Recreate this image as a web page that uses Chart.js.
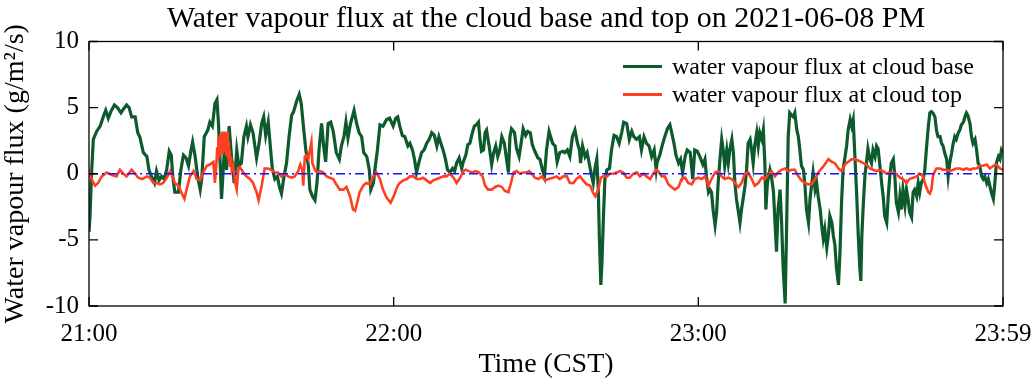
<!DOCTYPE html>
<html><head><meta charset="utf-8">
<script src="https://cdn.jsdelivr.net/npm/chart.js@4/dist/chart.umd.min.js"></script>
<style>html,body{margin:0;padding:0;background:#fff;}#wrap{width:1032px;height:384px;}</style>
</head><body><div id="wrap"><canvas id="c" width="1032" height="384"></canvas></div>
<script>
const chartTitle = 'Water vapour flux at the cloud base and top on 2021-06-08 PM';
const xAxisTitle = 'Time (CST)';
const yAxisTitle = 'Water vapour flux (g/m\u00B2/s)';
const seriesNames = ['water vapour flux at cloud base', 'water vapour flux at cloud top'];
// minutes after 21:00
const xTickMinutes = [0, 60, 120, 180];
const xTickLabels = ['21:00', '22:00', '23:00', '23:59'];
const yTickValues = [-10, -5, 0, 5, 10];

const baseTime = [0,0.2,0.5,0.85,1.5,2.2,2.8,3.3,3.8,4.3,5.0,5.6,6.3,6.8,7.4,7.9,8.4,9.1,9.6,10.0,10.7,11.4,11.8,12.3,12.9,13.3,13.8,14.3,14.8,15.3,15.8,16.2,16.5,16.9,17.6,18.1,18.6,19.1,19.6,20.1,20.4,20.9,21.4,21.9,22.2,22.7,23.4,23.8,24.3,24.8,25.2,25.5,25.8,26.1,26.7,27.1,27.6,28.1,28.6,29.1,29.5,
30.0,30.5,31.0,31.3,31.8,32.3,33.0,33.5,34.0,34.4,34.8,35.3,35.7,36.1,36.6,37.1,37.5,37.9,38.4,38.9,39.4,39.9,40.3,40.9,41.4,41.8,42.3,42.7,43.2,43.5,44.0,44.5,44.9,45.3,45.8,46.2,46.6,47.1,47.6,48.1,48.7,49.3,49.7,50.2,50.6,51.0,51.5,52.2,52.7,53.2,53.7,54.1,54.7,55.2,55.5,56.0,56.3,56.8,57.3,57.9,58.6,59.2,59.9,
60.4,60.8,61.2,61.7,62.2,62.8,63.2,63.7,64.1,64.5,65.0,65.5,66.0,66.5,67.0,67.5,68.0,68.5,68.9,69.3,69.8,70.2,70.6,71.1,71.6,72.0,72.4,72.9,73.4,73.7,74.2,74.6,75.0,75.5,75.9,76.3,76.7,77.0,77.3,77.7,78.0,78.3,78.8,79.3,79.7,80.1,80.5,80.9,81.3,81.8,82.3,82.6,82.9,83.2,83.8,84.2,84.7,85.1,85.5,86.0,86.4,86.9,87.3,87.8,88.4,88.8,89.3,89.7,90.1,90.6,
91.3,91.8,92.2,92.7,93.3,93.7,94.2,94.7,95.2,95.7,96.2,96.6,96.8,97.2,97.7,98.1,98.5,99.0,99.3,99.6,100.0,100.3,100.5,100.8,101.0,101.3,101.6,102.0,102.5,102.9,103.4,103.9,104.4,104.9,105.3,105.9,106.4,106.9,107.3,107.8,108.4,108.8,109.3,109.8,110.3,110.8,111.3,111.7,111.9,112.4,113.0,113.4,113.9,114.4,114.7,115.2,115.6,116.1,116.5,116.9,117.4,117.8,118.4,118.9,119.3,119.8,120.3,120.9,121.3,
121.6,122.0,122.3,122.6,122.9,123.3,123.6,123.9,124.3,124.6,124.9,125.2,125.6,125.9,126.2,126.6,126.9,127.2,127.5,127.9,128.2,128.5,128.9,129.2,129.5,129.8,130.2,130.5,130.8,131.1,131.5,131.8,132.1,132.5,132.8,133.1,133.3,133.6,134.1,134.4,134.8,135.1,135.4,135.7,136.1,136.4,136.7,137.1,137.4,137.7,138.0,138.4,138.7,139.0,139.4,139.7,140.0,140.3,140.7,141.0,141.3,141.7,142.0,142.3,142.6,143.0,143.3,143.6,144.0,144.3,144.6,144.9,145.3,145.6,145.9,146.3,146.6,146.9,147.2,147.6,147.9,148.2,148.5,148.9,149.2,149.5,149.9,150.2,150.5,150.8,151.2,151.5,151.8,
152.0,152.2,152.5,152.8,153.1,153.4,153.8,154.1,154.4,154.8,155.1,155.4,155.7,156.1,156.4,156.7,157.1,157.4,157.7,158.0,158.4,158.7,159.0,159.4,159.7,160.0,160.3,160.7,161.0,161.3,161.6,162.0,162.3,162.6,163.0,163.3,163.6,163.9,164.3,164.6,164.9,165.3,165.6,165.9,166.2,166.6,166.9,167.2,167.6,167.9,168.2,168.5,168.9,169.2,169.5,169.9,170.2,170.5,170.8,171.2,171.5,171.8,172.2,172.5,172.8,173.1,173.5,173.8,174.1,174.5,174.8,175.1,175.4,175.8,176.1,176.4,176.8,177.1,177.4,177.7,178.1,178.4,178.7,179.1,179.4,179.7,180.0];
const baseFlux = [-4.4,-3.2,0,2.6,3.2,3.6,4.3,4.8,4.2,4.7,5.2,5.0,4.6,4.9,5.2,5.0,4.3,4.3,3.1,2.8,1.6,1.3,0.3,-0.2,-0.7,0.2,-0.5,-0.2,-0.4,0.3,1.7,1.4,-0.2,-1.4,-1.4,0.3,1.4,1.2,0.6,1.8,2.4,1.3,-0.2,-1.2,-0.4,2.8,3.3,3.9,3.6,5.3,5.6,3.8,1.1,-1.9,2.1,0.3,3.6,1.1,-0.7,1.8,0.6,
0.8,2.8,3.6,2.8,3.7,3.1,1.2,2.3,3.8,4.3,2.9,3.9,2.1,0.4,-0.4,-0.2,-1.0,-1.5,-0.2,0.8,2.8,4.4,4.7,5.5,6.0,5.3,3.3,1.8,0.6,-1.2,-1.7,-2.0,-0.7,1.8,3.8,2.1,0.9,3.8,3.9,3.2,1.6,1.1,2.1,2.8,3.9,2.7,3.8,4.8,3.8,3.1,2.8,1.6,1.3,0.3,-1.2,-0.7,0.3,1.8,3.7,3.6,4.1,4.2,3.6,
4.2,4.3,3.6,2.9,2.8,2.1,2.3,1.8,1.1,0.1,0.9,1.6,1.8,2.3,2.6,3.1,2.9,2.1,2.8,2.3,1.7,1.1,0.3,0.1,0.4,0.2,0.8,1.2,0.4,0.9,1.4,2.2,2.3,3.1,3.6,3.7,3.9,2.6,1.7,1.8,3.1,3.3,2.1,0.7,1.6,2.1,1.3,1.8,2.8,2.3,0.9,0.1,2.8,3.4,3.1,1.9,1.3,2.3,3.4,2.9,3.2,3.1,2.2,1.7,1.2,1.1,0.3,-0.2,1.8,3.2,
2.3,2.1,0.9,1.6,1.7,1.6,1.8,1.3,2.8,3.3,2.3,1.8,0.8,2.1,1.3,1.6,0.8,-0.2,-0.7,0.3,1.1,-1.2,-4.7,-8.4,-6.9,-3.4,-0.4,0.3,0.4,1.8,2.9,2.8,2.3,3.1,3.9,3.8,2.6,3.2,2.8,2.6,2.8,1.8,2.8,2.3,2.1,1.3,1.8,0.3,0.9,1.4,2.3,2.8,3.4,3.7,3.2,2.3,1.4,0.8,1.1,0.1,1.3,1.8,1.6,-0.4,1.8,1.7,1.3,0.7,1.1,
-0.2,-1.4,-1.2,-1.4,-2.7,-3.9,-2.9,-0.7,1.3,2.6,1.8,0.6,1.8,0.8,1.8,2.6,1.6,-0.7,-1.9,-2.9,-3.7,-2.7,-1.7,-0.9,0.3,2.3,2.6,1.8,0.8,2.1,3.1,2.1,3.1,2.6,3.3,0.8,-2.7,-0.7,0.3,-0.2,-1.4,-3.7,-5.9,-2.7,-1.2,-3.7,-7.1,-9.8,-3.7,2.8,4.6,4.4,4.3,4.6,3.3,2.8,1.8,0.6,0.3,-0.9,-2.7,-3.7,-1.9,-0.9,0.1,-1.2,-0.7,-1.7,-2.7,-3.9,-4.9,-4.2,-5.6,-4.7,-3.2,-3.7,-4.7,-5.4,-7.1,-8.4,-5.9,-2.2,0.3,1.3,2.1,3.3,4.1,3.6,4.1,1.6,-1.7,-4.7,-7.1,
-8.1,-4.7,-2.2,-0.2,0.8,1.9,1.1,0.8,1.8,1.3,2.1,1.9,0.8,-0.7,-1.7,-3.2,-3.7,-1.7,-0.2,0.8,1.1,-0.2,-2.2,-2.9,-1.7,-2.7,-1.2,-2.4,-1.2,-1.9,-2.9,-3.3,-1.4,-1.2,-1.7,-0.7,-1.4,-0.7,-0.4,0.3,1.8,3.6,4.6,4.7,4.6,4.3,3.3,2.8,2.8,2.3,2.1,1.6,1.1,-0.2,0.8,1.6,2.3,2.8,2.6,3.1,3.3,3.7,3.9,4.3,4.6,4.4,3.8,2.8,2.3,2.6,1.8,0.8,0.6,-0.2,-0.4,-0.2,-0.7,-0.4,-0.9,-1.4,-1.9,-0.7,0.8,1.3,1.1,1.8,1.6];

const topTime = [0,0.5,1.2,1.8,2.5,3.5,4.5,5.4,6.1,6.8,7.4,8.4,9.1,9.7,10.5,11.4,12.0,12.7,13.3,14.0,14.6,15.3,16.0,16.4,16.9,17.6,18.3,18.8,19.2,19.9,20.6,21.2,21.9,22.5,23.2,23.8,24.5,24.8,25.1,
25.25,25.4,25.5,25.6,25.7,25.8,25.9,26.0,26.1,26.2,26.3,26.4,26.5,26.6,26.7,26.8,26.9,27.0,27.1,27.2,27.3,27.4,27.5,27.6,27.7,27.8,27.95,28.1,
28.4,28.8,29.1,29.4,29.7,30.4,31.0,31.7,32.3,33.0,33.4,34.0,34.6,35.3,35.9,36.6,37.2,37.9,38.6,39.2,39.9,40.5,41.2,41.6,42.0,42.2,42.5,42.8,43.2,43.5,43.8,44.0,44.5,44.9,45.5,46.1,46.8,47.4,48.1,48.7,49.4,50.1,50.7,51.4,52.0,52.4,52.8,53.3,54.0,54.6,55.3,56.0,56.6,57.3,57.9,58.6,59.4,60.0,
60.8,61.2,61.9,62.6,63.2,63.9,64.5,65.2,65.8,66.5,67.2,67.8,68.5,69.1,69.8,70.4,71.1,71.8,72.4,73.1,73.7,74.2,74.8,75.5,76.1,76.8,77.5,78.0,78.6,79.3,80.0,80.6,81.3,81.9,82.6,83.1,83.6,84.2,84.9,85.5,86.2,86.7,87.2,87.8,88.5,89.2,89.8,90.5,
91.4,92.1,92.7,93.4,94.1,94.7,95.4,96.0,96.7,97.3,98.0,98.7,99.2,99.7,100.3,100.8,101.3,102.0,102.6,103.3,103.9,104.6,105.2,105.9,106.5,107.2,107.9,108.5,109.2,109.8,110.5,111.1,111.7,112.1,112.8,113.4,114.1,114.7,115.4,116.1,116.7,117.4,118.0,118.7,119.3,120.0,120.7,121.3,
122.0,122.6,123.3,123.9,124.6,125.2,125.9,126.6,127.2,127.9,128.5,129.2,129.8,130.5,131.1,131.8,132.5,133.1,133.8,134.4,135.1,135.7,136.4,137.1,137.7,138.4,139.0,139.7,140.3,141.0,141.7,142.3,143.0,143.6,144.3,144.9,145.6,146.3,146.9,147.6,148.2,148.9,149.5,150.2,150.8,151.5,
152.5,153.1,153.8,154.4,155.1,155.7,156.4,157.1,157.7,158.4,159.0,159.7,160.3,161.0,161.6,162.3,163.0,163.6,164.3,164.6,164.9,165.3,165.6,165.9,166.2,166.6,166.9,167.6,168.2,168.9,169.5,170.2,170.8,171.5,172.2,172.8,173.5,174.1,174.8,175.4,176.1,176.8,177.4,178.1,178.7,179.4,180.0];
const topFlux = [0.3,-0.4,-0.9,-0.7,-0.2,0.1,-0.1,-0.2,0.3,0,-0.2,0.3,0,-0.3,-0.4,-0.2,-0.3,-0.7,-0.7,-0.8,-0.7,-0.3,0.2,-0.2,-0.7,-0.9,-1.5,-1.9,-1.2,-0.2,0.2,-0.4,-0.5,0.1,0.6,0.7,0.9,-0.7,0.8,
2.0,1.0,2.8,1.2,2.6,1.5,3.0,1.8,3.1,1.6,3.2,1.9,2.9,1.7,3.2,2.0,3.0,1.5,3.1,1.4,3.2,1.2,2.5,0.8,1.8,0.6,1.3,0.3,
0.6,-0.7,-1.2,0.3,0.5,0.1,-0.2,-0.4,-0.7,-1.4,-2.0,-0.9,0.4,0.4,0.3,0.1,0.1,-0.2,0,-0.2,-0.3,-0.2,0.2,0.7,0.3,-0.9,1.3,1.4,1.1,1.8,2.4,0.8,0.3,0.1,0.2,0.1,-0.2,-0.3,-0.4,-0.8,-1.2,-1.2,-1.0,-1.7,-2.7,-2.8,-2.2,-1.4,-0.9,-0.7,-0.8,-0.2,0.1,-0.4,-1.2,-1.8,-2.2,-1.7,
-0.9,-0.7,-0.5,-0.4,-0.2,-0.2,-0.4,-0.4,-0.3,-0.5,-0.7,-0.5,-0.4,-0.3,-0.2,-0.2,0,-0.3,-0.7,-0.3,0.2,0.3,0.2,0.1,0.2,0.1,-0.2,-0.9,-1.2,-1.2,-1.0,-0.9,-1.0,-1.3,-1.4,-0.7,0.1,0.2,0,0.1,0.1,0.2,0,-0.3,-0.4,-0.2,-0.5,-0.4,
-0.3,-0.2,-0.4,-0.2,-0.2,-0.7,-0.7,-0.4,-0.2,-0.5,-0.8,-0.9,-1.4,-1.7,-1.2,-0.3,-0.2,-0.2,0,0,0.1,0.2,0.1,-0.3,-0.3,0,0.1,-0.2,0,-0.2,-0.4,0,0.3,0.2,-0.2,-0.2,-0.8,-1.0,-1.2,-1.0,-0.4,-0.3,-0.7,-0.8,-0.4,-0.3,-0.4,-0.2,
-0.9,-0.4,0.1,0.2,-0.2,-0.4,-0.3,-0.4,-0.7,-1.0,-0.7,0,0.1,-0.4,-0.9,-0.7,-0.3,-0.4,0,0.2,-0.2,0.1,0.3,0.4,0.2,0.3,0.3,-0.2,-0.5,-0.7,-0.8,-0.8,-0.4,0.1,0.4,0.7,1.1,0.9,0.8,0.4,0.2,0.7,0.9,1.1,1.1,1.0,
0.8,0.7,0.4,0.3,0.2,0.3,0.2,0,0.1,0.1,0,-0.3,-0.4,-0.7,-0.4,-0.3,-0.2,0,-0.2,-0.7,-1.0,-1.4,-1.5,-1.2,-0.2,0.2,0.4,0.4,0.3,0.3,0.2,0.3,0.4,0.4,0.3,0.4,0.3,0.4,0.4,0.6,0.6,0.7,0.4,0.6,0.7,0.4,0.3];

const zeroTime = [0, 180];
const zeroFlux = [0, 0];

const pts = (xs, ys) => xs.map((x, i) => ({x: x, y: ys[i]}));
const SERIF = '"Liberation Serif", "Times New Roman", serif';

const framePlugin = {
  id: 'frame',
  afterDatasetsDraw(chart) {
    const {ctx, chartArea: a, scales} = chart;
    ctx.save();
    ctx.strokeStyle = '#000';
    ctx.lineWidth = 1.3;
    ctx.strokeRect(a.left, a.top, a.right - a.left, a.bottom - a.top);
    const L = 9;
    ctx.beginPath();
    scales.x.ticks.forEach(t => {
      const px = scales.x.getPixelForValue(t.value);
      ctx.moveTo(px, a.bottom); ctx.lineTo(px, a.bottom - L);
      ctx.moveTo(px, a.top); ctx.lineTo(px, a.top + L);
    });
    scales.y.ticks.forEach(t => {
      const py = scales.y.getPixelForValue(t.value);
      ctx.moveTo(a.left, py); ctx.lineTo(a.left + L, py);
      ctx.moveTo(a.right, py); ctx.lineTo(a.right - L, py);
    });
    ctx.stroke();
    // legend inside plot, top-right
    const x0 = a.right - 380, y0 = a.top + 25, gap = 28;
    ctx.font = '24px ' + SERIF;
    ctx.textBaseline = 'middle';
    ctx.textAlign = 'left';
    [0, 1].forEach(i => {
      const ds = chart.data.datasets[i];
      const y = y0 + gap * i;
      ctx.strokeStyle = ds.borderColor;
      ctx.lineWidth = 3;
      ctx.beginPath(); ctx.moveTo(x0, y); ctx.lineTo(x0 + 39, y); ctx.stroke();
      ctx.fillStyle = '#000';
      ctx.fillText(ds.label, x0 + 49, y + 1);
    });
    ctx.restore();
  }
};

new Chart(document.getElementById('c'), {
  type: 'line',
  data: {
    datasets: [
      {label: seriesNames[0], data: pts(baseTime, baseFlux), borderColor: '#0d5a2c', borderWidth: 3.2, pointRadius: 0, tension: 0, order: 3},
      {label: seriesNames[1], data: pts(topTime, topFlux), borderColor: '#ff3f22', borderWidth: 2.6, pointRadius: 0, tension: 0, order: 2},
      {label: 'zero', data: pts(zeroTime, zeroFlux), borderColor: '#1414ff', borderWidth: 1.6, borderDash: [9, 4, 2, 4], pointRadius: 0, order: 1}
    ]
  },
  options: {
    responsive: false,
    devicePixelRatio: 1,
    animation: false,
    layout: {padding: {left: 0, right: 0, top: 0, bottom: 0}},
    plugins: {
      legend: {display: false},
      tooltip: {enabled: false},
      title: {display: true, fullSize: false, text: chartTitle, color: '#000', font: {family: SERIF, size: 30, weight: 'normal', lineHeight: 1.15}, padding: {top: 2, bottom: 5}}
    },
    scales: {
      x: {
        type: 'linear', min: 0, max: 180,
        afterBuildTicks: s => { s.ticks = xTickMinutes.map(v => ({value: v})); },
        afterFit: s => { s.height = 78; s.paddingLeft = 0; s.paddingRight = 29; },
        grid: {display: false, drawTicks: false},
        border: {display: false},
        ticks: {autoSkip: false, maxRotation: 0, padding: 13, color: '#000', font: {family: SERIF, size: 25},
          callback: v => xTickLabels[xTickMinutes.indexOf(v)]},
        title: {display: true, text: xAxisTitle, color: '#000', font: {family: SERIF, size: 28, lineHeight: 1.1}, padding: {top: 0, bottom: 4}}
      },
      y: {
        min: -10, max: 10,
        afterBuildTicks: s => { s.ticks = yTickValues.map(v => ({value: v})); },
        afterFit: s => { s.width = 89; },
        grid: {display: false, drawTicks: false},
        border: {display: false},
        ticks: {padding: 10, color: '#000', font: {family: SERIF, size: 25}},
        title: {display: true, text: yAxisTitle, color: '#000', font: {family: SERIF, size: 28, lineHeight: 1.1}, padding: {top: 0, bottom: 4}}
      }
    }
  },
  plugins: [framePlugin]
});
</script>
</body></html>
